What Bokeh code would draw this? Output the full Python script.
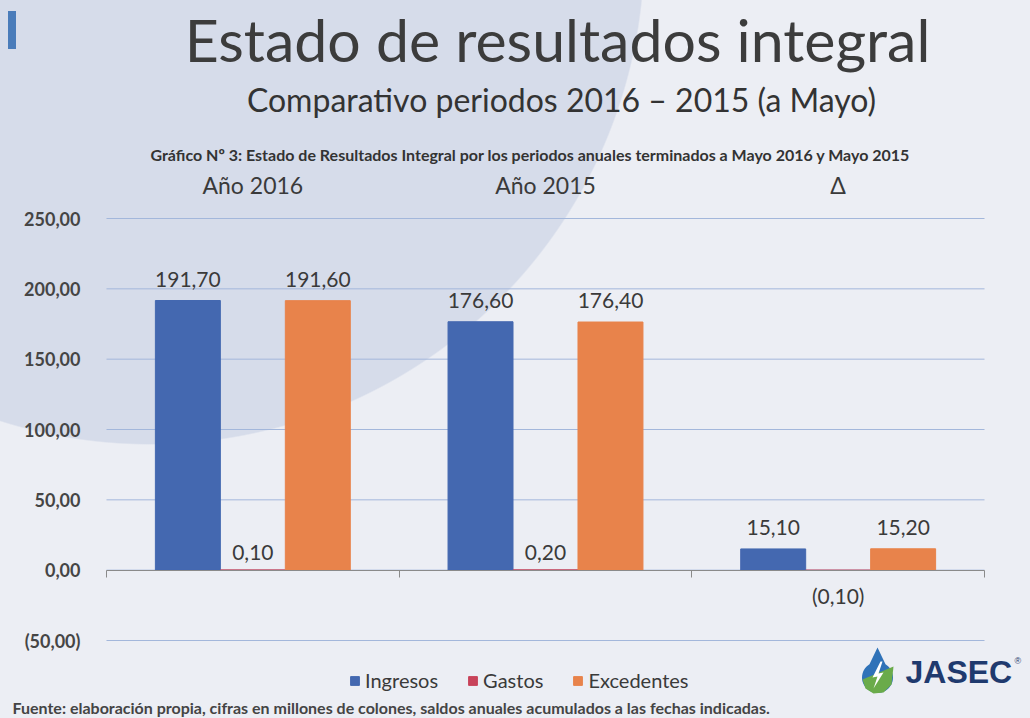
import math
from bokeh.plotting import figure
from bokeh.models import (Range1d, FixedTicker, LinearAxis, CustomJSTickFormatter,
                          Label, Legend, LegendItem, ColumnDataSource, PolyAnnotation)
from bokeh.transform import dodge
from bokeh.core.properties import value
from bokeh.embed import file_html
from bokeh.resources import INLINE

# ---------------- data ----------------
categories = ["Año 2016", "Año 2015", "Δ"]
series_names = ["Ingresos", "Gastos", "Excedentes"]
ingresos = [191.70, 176.60, 15.10]
gastos = [0.10, 0.20, -0.10]
excedentes = [191.60, 176.40, 15.20]
y_ticks = [-50, 0, 50, 100, 150, 200, 250]

title_text = "Estado de resultados integral"
subtitle_text = "Comparativo periodos 2016 – 2015 (a Mayo)"
caption_text = ("Gráfico Nº 3: Estado de Resultados Integral por los periodos "
                "anuales terminados a Mayo 2016 y Mayo 2015")
source_text = ("Fuente: elaboración propia, cifras en millones de colones, "
               "saldos anuales acumulados a las fechas indicadas.")
logo_text = "JASEC"

# ---------------- style / layout ----------------
FONT = "Lato"
TXT = "#3a3a3a"
COLORS = {"Ingresos": "#4468b0", "Gastos": "#c8435a", "Excedentes": "#e8834b"}
BG = "#eceef4"
CIRCLE = "#d6dcea"
GRID = "#a3b7db"

W, H = 1030, 718
PL, PR, PT, PB = 106, 984, 218, 640   # plot area (pixels) of the chart itself

ncat = len(categories)
ymin, ymax = y_ticks[0], y_ticks[-1]
sx = (PR - PL) / ncat
sy = (PB - PT) / (ymax - ymin)
x_range = Range1d(-PL / sx, ncat + (W - PR) / sx)
y_range = Range1d(ymin - (H - PB) / sy, ymax + PT / sy)


def fmt(v):
    s = f"{abs(v):.2f}".replace(".", ",")
    return f"({s})" if v < 0 else s


xc = [i + 0.5 for i in range(ncat)]
src = ColumnDataSource(dict(
    x=xc,
    Ingresos=ingresos, Gastos=gastos, Excedentes=excedentes,
    Ingresos_lbl=[fmt(v) for v in ingresos],
    Gastos_lbl=[fmt(v) for v in gastos],
    Excedentes_lbl=[fmt(v) for v in excedentes],
))

p = figure(width=W, height=H, output_backend="svg", toolbar_location=None,
           x_range=x_range, y_range=y_range,
           x_axis_location=None, y_axis_location=None, min_border=0)
p.border_fill_color = None
p.background_fill_color = None
p.outline_line_color = None
p.xgrid.visible = False
p.ygrid.visible = False
p.styles = {
    "background":
        "linear-gradient(#4a7cba,#4a7cba) 8px 11px / 8px 38px no-repeat, "
        f"radial-gradient(circle 495px at 150px -50px, {CIRCLE} 99.7%, {BG} 100%)"
}

# horizontal gridlines across the category span, one per y tick
p.segment(x0=0, x1=ncat, y0=y_ticks, y1=y_ticks, line_color=GRID, line_width=1)

# top category axis (fixed at the top of the value range)
xa = LinearAxis(fixed_location=ymax, ticker=FixedTicker(ticks=xc),
                major_label_overrides={x: c for x, c in zip(xc, categories)})
xa.axis_line_color = None
xa.major_tick_line_color = None
xa.minor_tick_line_color = None
xa.major_tick_out = 0
xa.major_label_standoff = 20
xa.major_label_text_font = FONT
xa.major_label_text_font_size = "23px"
xa.major_label_text_color = TXT
p.add_layout(xa, "above")

# y axis
ya = LinearAxis(fixed_location=0, ticker=FixedTicker(ticks=y_ticks), bounds=(ymin, ymax))
ya.formatter = CustomJSTickFormatter(code="""
const s = Math.abs(tick).toFixed(2).replace('.', ',');
return tick < 0 ? '(' + s + ')' : s;
""")
ya.axis_line_color = None
ya.major_tick_line_color = None
ya.minor_tick_line_color = None
ya.major_tick_out = 0
ya.major_label_standoff = 26
ya.major_label_text_font = FONT
ya.major_label_text_font_style = "bold"
ya.major_label_text_font_size = "18px"
ya.major_label_text_color = "#454545"
p.add_layout(ya, "left")

# zero axis line with category boundary ticks
zero_axis = LinearAxis(fixed_location=0, ticker=FixedTicker(ticks=list(range(ncat + 1))),
                       bounds=(0, ncat))
zero_axis.axis_line_color = "#8a8a8a"
zero_axis.major_tick_line_color = "#8a8a8a"
zero_axis.major_tick_out = 7
zero_axis.major_tick_in = 0
zero_axis.minor_tick_line_color = None
zero_axis.major_label_text_color = None
p.add_layout(zero_axis, "below")

# bars + value labels
bw = 0.222
offsets = {"Ingresos": -bw, "Gastos": 0.0, "Excedentes": bw}
label_off = {"Ingresos": -14, "Gastos": -10, "Excedentes": -14}
items = []
for name in series_names:
    r = p.vbar(x=dodge("x", offsets[name], range=p.x_range), top=name, bottom=0,
               width=bw, source=src, fill_color=COLORS[name],
               line_color=COLORS[name], line_width=1)
    items.append(LegendItem(label=name, renderers=[r]))
    vals = src.data[name]
    pos = [i for i, v in enumerate(vals) if v >= 0]
    neg = [i for i, v in enumerate(vals) if v < 0]
    for idx, base, off in ((pos, "bottom", label_off[name]), (neg, "top", 13)):
        if not idx:
            continue
        sub = ColumnDataSource(dict(x=[xc[i] for i in idx], y=[vals[i] for i in idx],
                                    t=[src.data[name + "_lbl"][i] for i in idx]))
        p.text(x=dodge("x", offsets[name], range=p.x_range), y="y", text="t", source=sub,
               text_align="center", text_baseline=base, y_offset=off,
               text_font=value(FONT), text_font_size="21px", text_color=TXT)

legend = Legend(items=items, orientation="horizontal", location=(349, H - 692),
                label_text_font=FONT, label_text_font_size="20px", label_text_color=TXT,
                glyph_width=11, glyph_height=11, label_standoff=5, spacing=29,
                padding=0, margin=0, border_line_color=None,
                background_fill_color=None, background_fill_alpha=0)
p.add_layout(legend, "center")


def lab(text, X, Y, size, align="center", style="normal", color=TXT, font=FONT):
    # X, Y are page pixels (top-left origin); screen units are frame-relative, y up
    return Label(x=X, y=H - Y, x_units="screen", y_units="screen",
                 text=text, text_align=align, text_baseline="alphabetic",
                 text_font=font, text_font_size=size, text_font_style=style,
                 text_color=color)


for l in (
    lab(title_text, 557, 39, "59px", color="#3c3c3c"),
    lab(subtitle_text, 561, 99, "32px", color="#333333"),
    lab(caption_text, 530, 154, "16px", style="bold", color="#333333"),
    lab(source_text, 12, 707, "16px", align="left", style="bold", color="#444444"),
    lab(logo_text, 905, 671, "32px", align="left", style="bold", color="#1f3a6e",
        font="Liberation Sans"),
    lab("®", 1014, 660, "9px", align="left", color="#1f3a6e", font="Liberation Sans"),
):
    p.add_layout(l)

# JASEC drop logo (decorative teardrop)
cx, cy, rr, tip = 877, 677, 15.5, 647
drop_x, drop_y = [], []
a0 = math.asin(rr / (cy - tip))
for k in range(41):
    a = -math.pi / 2 + a0 + (2 * math.pi - 2 * a0) * k / 40
    drop_x.append(cx + rr * math.cos(a + math.pi))
    drop_y.append(H - (cy - rr * math.sin(a + math.pi)))
drop_x.append(cx)
drop_y.append(H - tip)
p.add_layout(PolyAnnotation(xs=drop_x, ys=drop_y, xs_units="screen", ys_units="screen",
                            fill_color="#2f72b8", fill_alpha=1, line_color=None))
leaf_x = [cx - 15, cx + 16, cx + 14, cx + 6, cx - 4, cx - 12]
leaf_y = [H - 679, H - 666, H - 684, H - 692, H - 693, H - 688]
p.add_layout(PolyAnnotation(xs=leaf_x, ys=leaf_y, xs_units="screen", ys_units="screen",
                            fill_color="#6aab4a", fill_alpha=1, line_color=None))
bolt_x = [cx + 3, cx - 5, cx, cx - 4, cx + 6, cx + 1, cx + 5]
bolt_y = [H - 661, H - 677, H - 676, H - 688, H - 672, H - 673, H - 661]
p.add_layout(PolyAnnotation(xs=bolt_x, ys=bolt_y, xs_units="screen", ys_units="screen",
                            fill_color="#ffffff", fill_alpha=1, line_color=None))

open("out.html", "w").write(file_html(p, INLINE))
